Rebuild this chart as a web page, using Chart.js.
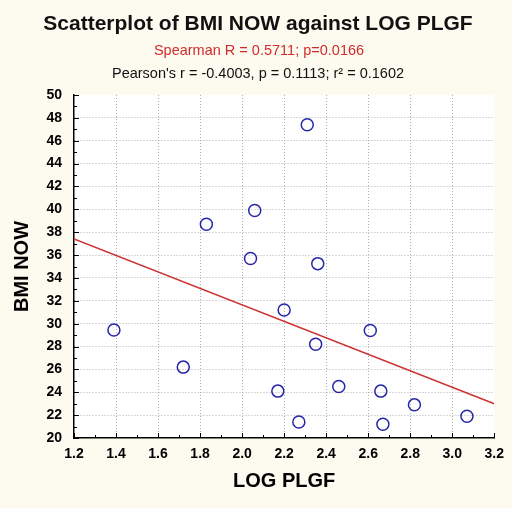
<!DOCTYPE html>
<html>
<head>
<meta charset="utf-8">
<title>BMI NOW vs LOG PLGF</title>
<script src="https://cdn.jsdelivr.net/npm/chart.js@4/dist/chart.umd.min.js"></script>
<style>
  html, body { margin: 0; padding: 0; background: #fdfaf0; }
</style>
</head>
<body>
<canvas id="bmiScatter" width="512" height="508"></canvas>
<script>
const TITLE = "Scatterplot of BMI NOW against LOG PLGF";
const SPEARMAN_TEXT = "Spearman R = 0.5711; p=0.0166";
const PEARSON_TEXT = "Pearson's r = -0.4003, p = 0.1113; r\u00B2 = 0.1602";
const X_TITLE = "LOG PLGF";
const Y_TITLE = "BMI NOW";

// one value per subject
const LOG_PLGF = [1.39, 1.72, 1.83, 2.04, 2.06, 2.17, 2.20, 2.27, 2.31, 2.35, 2.36, 2.46, 2.61, 2.66, 2.67, 2.82, 3.07];
const BMI_NOW  = [29.45, 26.2, 38.7, 35.7, 39.9, 24.1, 31.2, 21.4, 47.4, 28.2, 35.25, 24.5, 29.4, 24.1, 21.2, 22.9, 21.9];

// ends of the regression line
const FIT_X = [1.2, 3.2];
const FIT_Y = [37.4, 23.0];

const X_RANGE = [1.2, 3.2];
const Y_RANGE = [20, 50];

const TICK_FONT = {
  family: '"Liberation Sans", Arial, sans-serif',
  size: 14,
  weight: "bold",
};
const LABEL_FONT = { family: '"Liberation Sans", Arial, sans-serif', size: 20, weight: "bold" };

const points = LOG_PLGF.map((x, i) => ({ x: x, y: BMI_NOW[i] }));
const fitLine = FIT_X.map((x, i) => ({ x: x, y: FIT_Y[i] }));

// hide grid lines on the frame edges
const innerGrid = (ctx) =>
  ctx.index === 0 || ctx.index === ctx.scale.ticks.length - 1 ? "rgba(0,0,0,0)" : "#b0b0b0";

const plotBackground = {
  id: "plotBackground",
  beforeDraw(chart) {
    const { ctx, chartArea } = chart;
    ctx.save();
    ctx.fillStyle = "#fdfaf0";
    ctx.fillRect(0, 0, chart.width, chart.height);
    ctx.fillStyle = "#ffffff";
    ctx.fillRect(chartArea.left, chartArea.top, chartArea.right - chartArea.left, chartArea.bottom - chartArea.top);
    ctx.restore();
  },
};

// header lines above the plot
const headerText = {
  id: "headerText",
  afterDraw(chart) {
    const ctx = chart.ctx;
    ctx.save();
    ctx.textAlign = "center";
    ctx.textBaseline = "alphabetic";
    ctx.fillStyle = "#111";
    ctx.font = 'bold 21px "Liberation Sans", Arial, sans-serif';
    ctx.fillText(TITLE, 258, 30);
    ctx.fillStyle = "#d02c2c";
    ctx.font = '14.5px "Liberation Sans", Arial, sans-serif';
    ctx.fillText(SPEARMAN_TEXT, 259, 55);
    ctx.fillStyle = "#111";
    ctx.fillText(PEARSON_TEXT, 258, 78);
    ctx.restore();
  },
};

// inward major/minor tick marks on the left and bottom axes
const innerTicks = {
  id: "innerTicks",
  afterDraw(chart) {
    const { ctx, chartArea, scales } = chart;
    ctx.save();
    ctx.strokeStyle = "#000";
    ctx.lineWidth = 1;
    ctx.beginPath();
    for (let i = 0; i <= 20; i++) {
      const px = Math.round(scales.x.getPixelForValue(X_RANGE[0] + i * 0.1)) + 0.5;
      const len = i % 2 === 0 ? 5 : 3;
      ctx.moveTo(px, chartArea.bottom);
      ctx.lineTo(px, chartArea.bottom - len);
    }
    for (let v = Y_RANGE[0]; v <= Y_RANGE[1]; v++) {
      const py = Math.round(scales.y.getPixelForValue(v)) + 0.5;
      const len = v % 2 === 0 ? 5 : 3;
      ctx.moveTo(chartArea.left, py);
      ctx.lineTo(chartArea.left + len, py);
    }
    ctx.stroke();
    ctx.restore();
  },
};

const config = {
  type: "scatter",
  data: {
    datasets: [
      {
        label: "BMI NOW",
        data: points,
        pointRadius: 6,
        pointHoverRadius: 6,
        pointBorderWidth: 1.5,
        borderColor: "#2626a8",
        backgroundColor: "rgba(0,0,0,0)",
        order: 1,
      },
      {
        type: "line",
        label: "fit",
        data: fitLine,
        borderColor: "#cc3333",
        borderWidth: 1.5,
        pointRadius: 0,
        fill: false,
        order: 2,
      },
    ],
  },
  options: {
    responsive: false,
    animation: false,
    layout: { padding: { top: 95, right: 17, left: 0, bottom: 0 } },
    plugins: {
      legend: { display: false },
      tooltip: { enabled: false },
    },
    scales: {
      x: {
        type: "linear",
        min: X_RANGE[0],
        max: X_RANGE[1],
        afterFit(scale) { scale.height = 70; },
        ticks: {
          stepSize: 0.2,
          padding: 8,
          color: "#000",
          font: TICK_FONT,
          maxRotation: 0,
          callback: (v) => v.toFixed(1),
        },
        grid: { color: innerGrid, drawTicks: false, lineWidth: 1 },
        border: { display: true, color: "#000", width: 1.5, dash: [1, 2] },
        title: { display: true, text: X_TITLE, color: "#000", font: LABEL_FONT, padding: { top: 0, bottom: 15 } },
      },
      y: {
        type: "linear",
        min: Y_RANGE[0],
        max: Y_RANGE[1],
        afterFit(scale) { scale.width = 74; },
        ticks: {
          stepSize: 2,
          padding: 12,
          color: "#000",
          font: TICK_FONT,
        },
        grid: { color: innerGrid, drawTicks: false, lineWidth: 1 },
        border: { display: true, color: "#000", width: 1.5, dash: [1, 2] },
        title: { display: true, text: Y_TITLE, color: "#000", font: LABEL_FONT, padding: { top: 10, bottom: 0 } },
      },
    },
  },
  plugins: [plotBackground, headerText, innerTicks],
};

new Chart(document.getElementById("bmiScatter").getContext("2d"), config);
</script>
</body>
</html>
